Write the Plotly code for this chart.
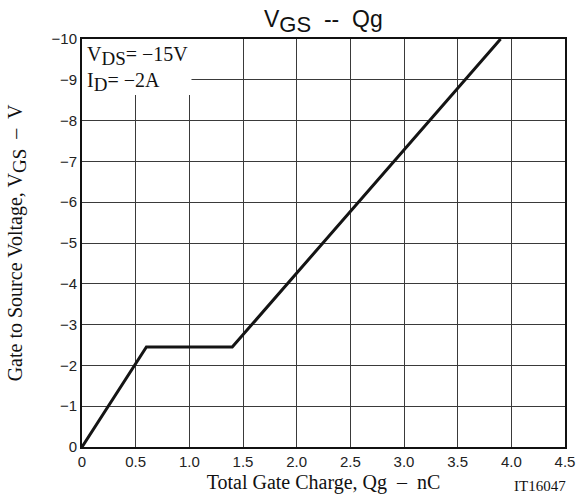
import plotly.graph_objects as go

# Gate charge curve: total gate charge (nC) vs gate-source voltage (V)
qg_nc = [0.0, 0.6, 1.4, 3.9]
vgs_v = [0.0, -2.45, -2.45, -10.0]

x_ticks = [0, 0.5, 1.0, 1.5, 2.0, 2.5, 3.0, 3.5, 4.0, 4.5]
x_tick_text = ["0", "0.5", "1.0", "1.5", "2.0", "2.5", "3.0", "3.5", "4.0", "4.5"]
y_ticks = [0, -1, -2, -3, -4, -5, -6, -7, -8, -9, -10]
y_tick_text = ["0", "−1", "−2", "−3", "−4", "−5", "−6", "−7", "−8", "−9", "−10"]

SANS = "Liberation Sans, Arial, sans-serif"
SERIF = "Liberation Serif, Times New Roman, serif"
GRID = "#3a3a3a"


def lowered(txt, px):
    """Subscript drawn at (almost) full size, only shifted down."""
    return f"<sub><span style='font-size:{px}px'>{txt}</span></sub>"


fig = go.Figure()
fig.add_trace(go.Scatter(
    x=qg_nc, y=vgs_v, mode="lines",
    line=dict(color="#141414", width=3),
    showlegend=False, hoverinfo="skip",
))

# white panel behind the test-condition text
fig.add_shape(type="rect", xref="x", yref="y",
              x0=0, x1=1.02, y0=-10, y1=-8.63,
              fillcolor="white", line=dict(width=0), layer="between")

fig.add_annotation(
    x=0.03, y=-9.95, xref="x", yref="y", xanchor="left", yanchor="top",
    align="left", showarrow=False,
    text="V" + lowered("DS", 19) + "= −15V<br>I" + lowered("D", 19) + "= −2A",
    font=dict(family=SERIF, size=20, color="#111"),
)

fig.add_annotation(
    x=1.0, y=0.0, xref="paper", yref="paper", xanchor="right", yanchor="top",
    xshift=3, yshift=-29, showarrow=False, text="IT16047",
    font=dict(family=SERIF, size=15, color="#111"),
)

# chart heading
fig.add_annotation(
    x=0.5, y=1.0, xref="paper", yref="paper", xanchor="center", yanchor="bottom",
    yshift=0, showarrow=False,
    text="V" + lowered("GS", 22) + "  --  Qg",
    font=dict(family=SANS, size=23, color="#111"),
)

fig.update_layout(
    width=587, height=502,
    margin=dict(l=82, r=14, t=39, b=54),
    paper_bgcolor="white", plot_bgcolor="white",
)

fig.update_xaxes(
    range=[0, 4.5], tickvals=x_ticks, ticktext=x_tick_text,
    showgrid=True, gridcolor=GRID, gridwidth=1,
    showline=True, linecolor="#111", linewidth=2, mirror=True,
    zeroline=False, ticks="",
    tickfont=dict(family=SANS, size=15, color="#222"),
    title=dict(text="Total Gate Charge, Qg  –  nC", standoff=6,
               font=dict(family=SERIF, size=20, color="#111")),
)
fig.update_yaxes(
    range=[0, -10], tickvals=y_ticks, ticktext=y_tick_text,
    showgrid=True, gridcolor=GRID, gridwidth=1,
    showline=True, linecolor="#111", linewidth=2, mirror=True,
    zeroline=False, ticks="",
    tickfont=dict(family=SANS, size=15, color="#222"),
    title=dict(text="Gate to Source Voltage, V" + lowered("GS", 19) + "  –  V",
               standoff=24,
               font=dict(family=SERIF, size=20, color="#111")),
)

fig.write_html("out.html")
